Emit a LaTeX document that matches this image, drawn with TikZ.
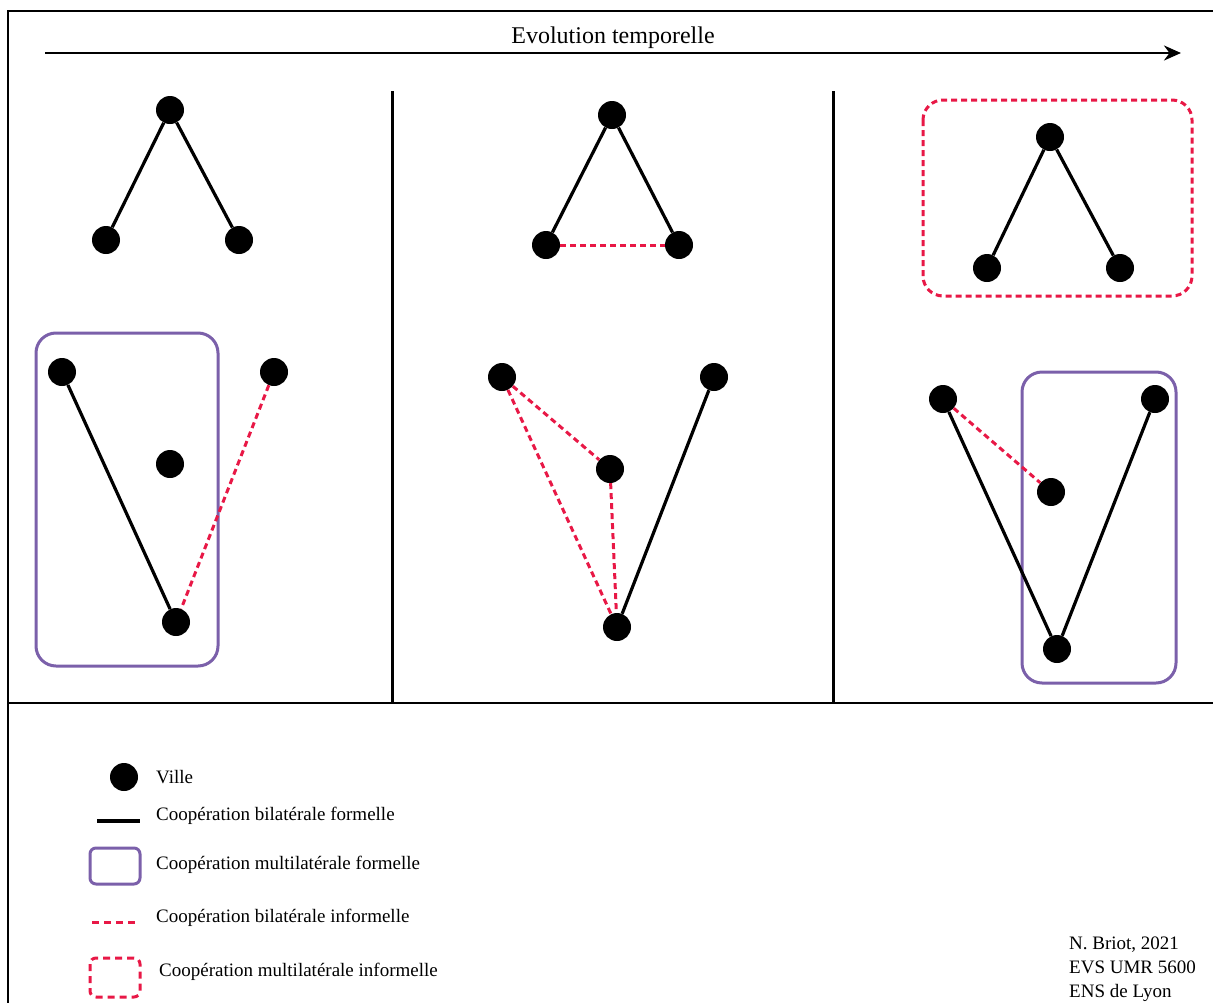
\documentclass[tikz,border=0pt]{standalone}
\usepackage{fontspec}
\setmainfont{Liberation Serif}
\usetikzlibrary{arrows.meta}
\definecolor{mpurple}{RGB}{123,96,170}
\definecolor{mred}{RGB}{232,24,70}
\tikzset{
  ville/.style={circle,fill=black,inner sep=0pt,minimum size=28bp},
  formal/.style={line width=3.2bp,black},
  informal/.style={line width=3bp,mred,dash pattern=on 6bp off 4bp},
  multiformal/.style={line width=3bp,mpurple,rounded corners=20bp},
  multiinformal/.style={line width=3bp,mred,dash pattern=on 6bp off 4bp,rounded corners=20bp},
  frame/.style={line width=2bp,black},
  divider/.style={line width=3bp,black},
  lbl/.style={anchor=west,inner sep=0pt,font=\fontsize{19bp}{23bp}\selectfont},
}
\begin{document}
\begin{tikzpicture}[x=1bp,y=-1bp]
\useasboundingbox (0,0) rectangle (1213,1003);
% frame
\draw[frame] (1213,11) -- (8,11) -- (8,1003);
\draw[frame] (8,703) -- (1213,703);
\draw[divider] (392,91) -- (392,703);
\draw[divider] (833,91) -- (833,703);
% time arrow
\coordinate (ts) at (45,53);
\coordinate (te) at (1181,53);
\draw[line width=2.5bp,-{Stealth[length=17bp,width=15bp]}] (ts) -- (te);
\node[font=\fontsize{24bp}{28bp}\selectfont,inner sep=0pt] (title) at (613,38) {Evolution temporelle};

% ---- panel 1
\node[ville] (a1) at (170,110) {};
\node[ville] (a2) at (106,240) {};
\node[ville] (a3) at (239,240) {};
\draw[formal] (a1) -- (a2);
\draw[formal] (a1) -- (a3);
\draw[multiformal] (36,333) rectangle (218,666);
\node[ville] (b1) at (62,372) {};
\node[ville] (b2) at (274,372) {};
\node[ville] (b3) at (170,464) {};
\node[ville] (b4) at (176,622) {};
\draw[formal] (b1) -- (b4);
\draw[informal] (b2) -- (b4);

% ---- panel 2
\node[ville] (c1) at (612,115) {};
\node[ville] (c2) at (546,245) {};
\node[ville] (c3) at (679,245) {};
\draw[formal] (c1) -- (c2);
\draw[formal] (c1) -- (c3);
\draw[informal] (c2) -- (c3);
\node[ville] (d1) at (502,377) {};
\node[ville] (d2) at (714,377) {};
\node[ville] (d3) at (610,469) {};
\node[ville] (d4) at (617,627) {};
\draw[informal] (d1) -- (d3);
\draw[informal] (d1) -- (d4);
\draw[informal] (d3) -- (d4);
\draw[formal] (d2) -- (d4);

% ---- panel 3
\draw[multiinformal] (923,100) rectangle (1192,296);
\node[ville] (e1) at (1050,137) {};
\node[ville] (e2) at (987,268) {};
\node[ville] (e3) at (1120,268) {};
\draw[formal] (e1) -- (e2);
\draw[formal] (e1) -- (e3);
\draw[multiformal] (1022,372) rectangle (1176,683);
\node[ville] (f1) at (943,399) {};
\node[ville] (f2) at (1155,399) {};
\node[ville] (f3) at (1051,492) {};
\node[ville] (f4) at (1057,649) {};
\draw[informal] (f1) -- (f3);
\draw[formal] (f1) -- (f4);
\draw[formal] (f2) -- (f4);

% ---- legend
\node[ville] (lv) at (124,777) {};
\node[lbl] (tv) at (156,777) {Ville};
\coordinate (lf1) at (97,821);
\coordinate (lf2) at (140,821);
\draw[formal] (lf1) -- (lf2);
\node[lbl] (tf) at (156,816) {Coopération bilatérale formelle};
\draw[multiformal,rounded corners=6bp] (90,848) rectangle (140,884);
\node[lbl] (tmf) at (156,865) {Coopération multilatérale formelle};
\coordinate (li1) at (92,922);
\coordinate (li2) at (140,922);
\draw[informal,dash pattern=on 7bp off 5bp] (li1) -- (li2);
\node[lbl] (ti) at (156,918) {Coopération bilatérale informelle};
\draw[multiinformal,rounded corners=6bp,dash pattern=on 7bp off 5bp] (90,958) rectangle (140,997);
\node[lbl] (tmi) at (159,972) {Coopération multilatérale informelle};

% ---- credits
\node[lbl,anchor=north west,align=left,font=\fontsize{19bp}{24bp}\selectfont] (cr) at (1069,937) {N. Briot, 2021\\EVS UMR 5600\\ENS de Lyon};
\end{tikzpicture}
\end{document}
